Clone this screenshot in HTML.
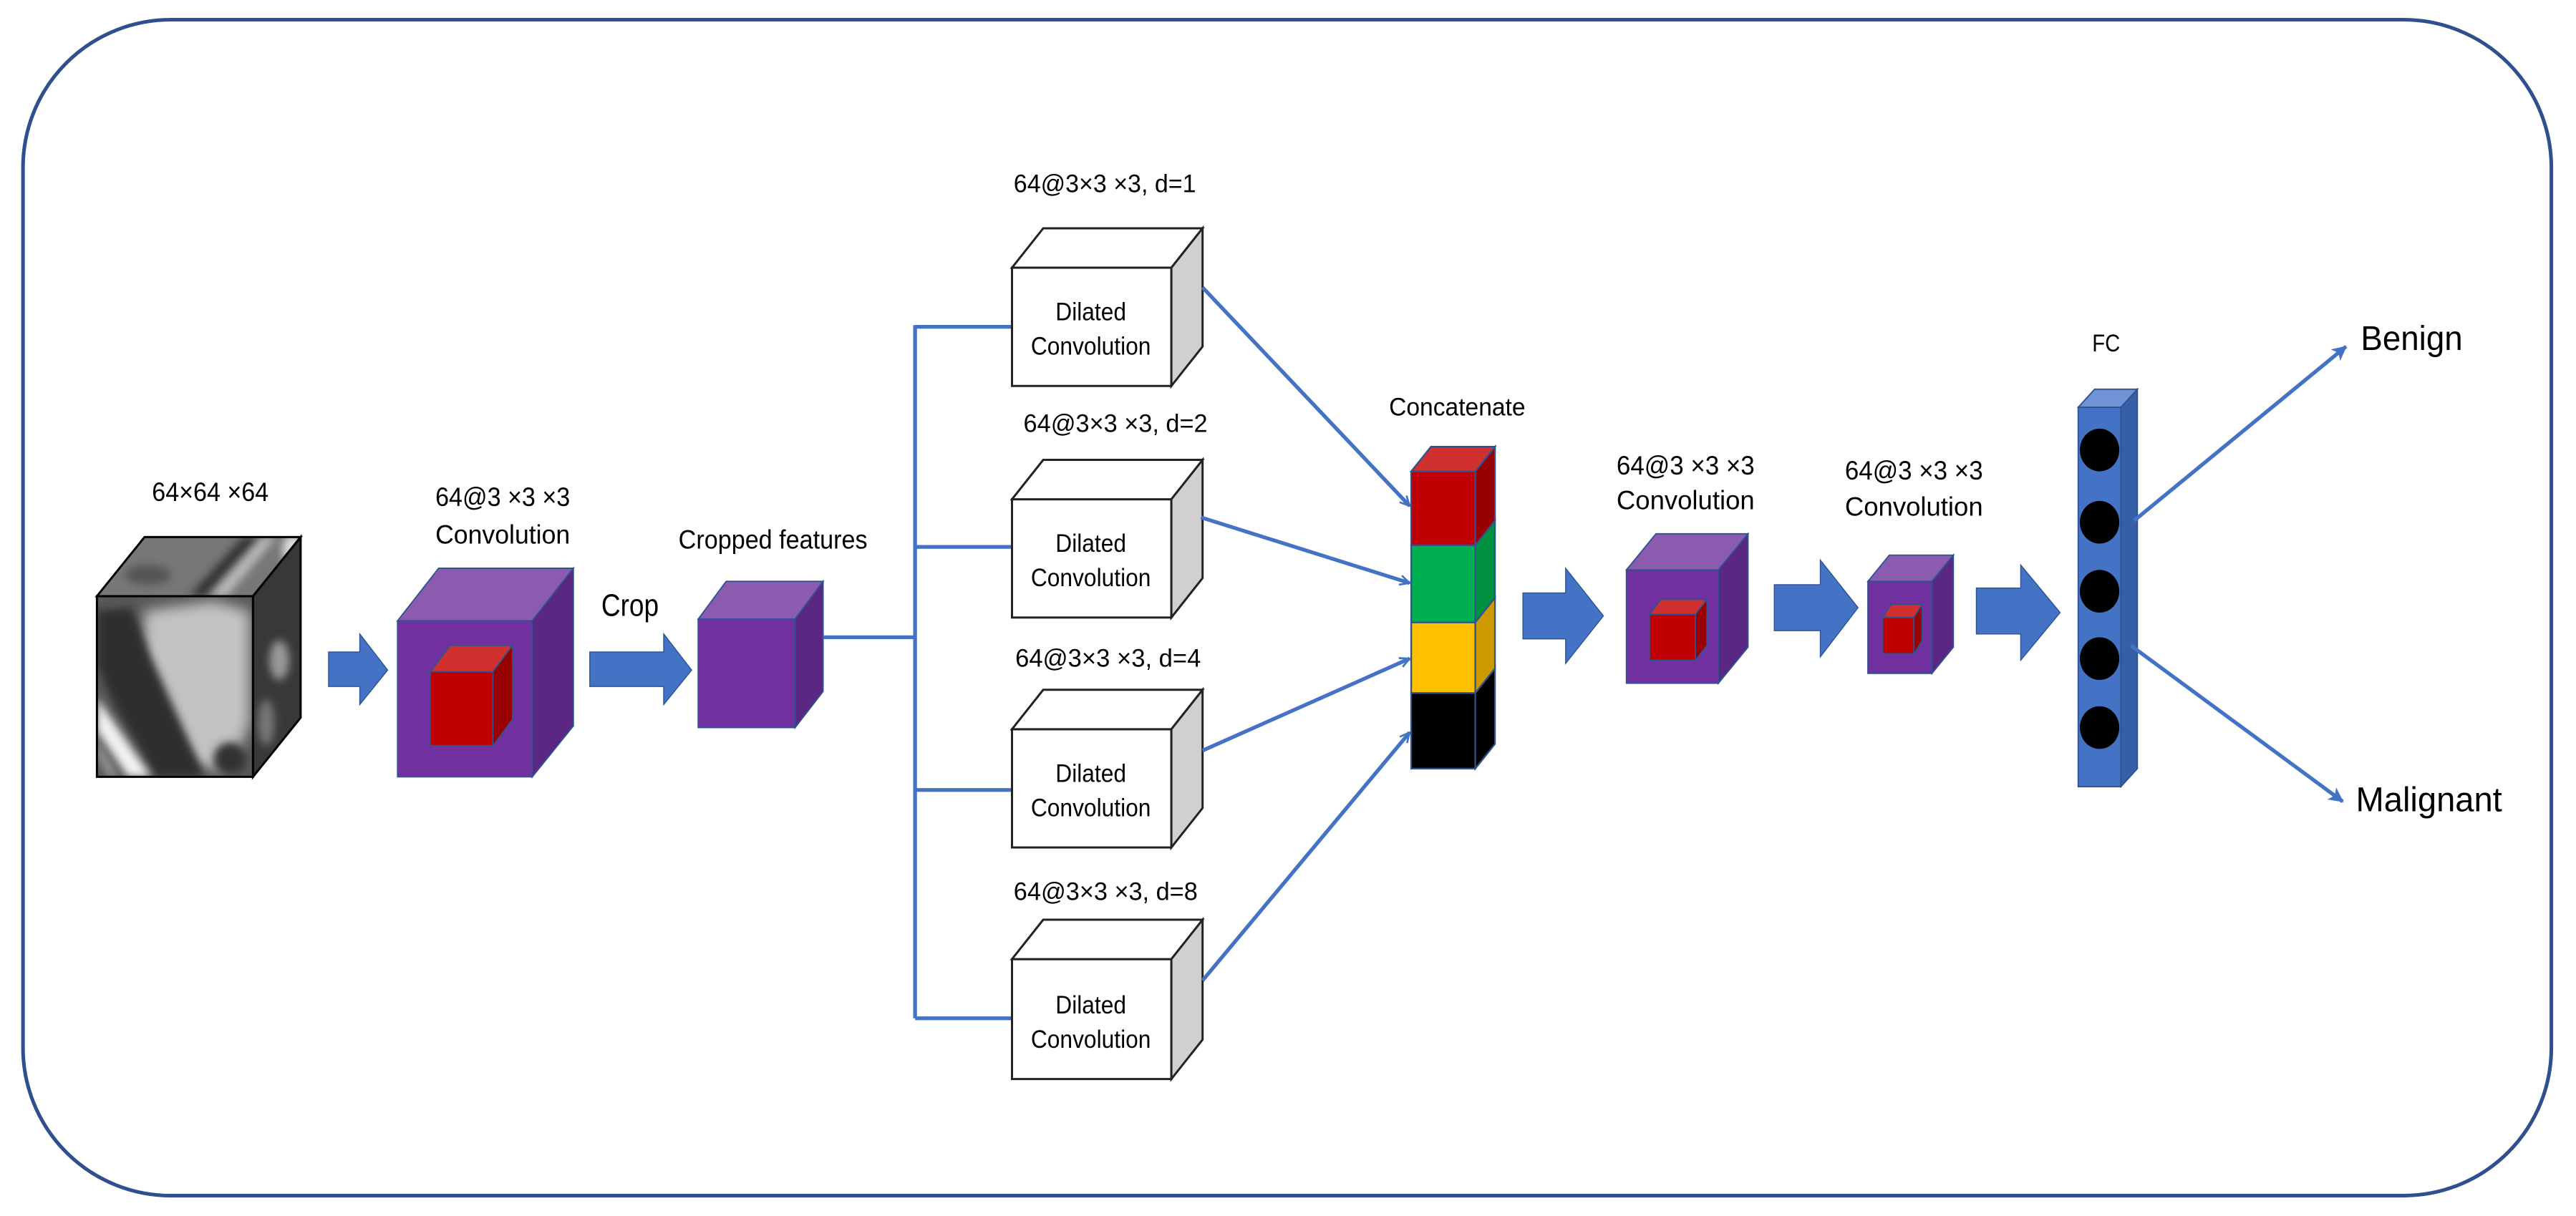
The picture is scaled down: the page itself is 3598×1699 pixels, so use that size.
<!DOCTYPE html>
<html><head><meta charset="utf-8"><style>
html,body{margin:0;padding:0;background:#fff;}
svg{display:block;}
text{font-family:"Liberation Sans",sans-serif;fill:#000;}
.n{font-family:"Liberation Sans Narrow","Liberation Sans",sans-serif;}
</style></head><body>
<svg width="3598" height="1699" viewBox="0 0 1568 740.4" preserveAspectRatio="none" xmlns="http://www.w3.org/2000/svg">
<defs>
<filter id="bl" x="-50%" y="-50%" width="200%" height="200%"><feGaussianBlur stdDeviation="4"/></filter>
<filter id="bl2" x="-50%" y="-50%" width="200%" height="200%"><feGaussianBlur stdDeviation="2.5"/></filter>
<clipPath id="cf"><rect x="59" y="363" width="95" height="110"/></clipPath>
<clipPath id="ct"><polygon points="59,363 88,327 183,327 154,363"/></clipPath>
<clipPath id="cs"><polygon points="154,363 183,327 183,437 154,473"/></clipPath>
<marker id="ah" viewBox="0 0 12 12" refX="11" refY="6" markerWidth="7" markerHeight="7" markerUnits="userSpaceOnUse" orient="auto"><path d="M1,1 L11,6 L1,11" fill="none" stroke="#4472c4" stroke-width="2"/></marker>
<marker id="ah2" viewBox="0 0 12 12" refX="11" refY="6" markerWidth="9" markerHeight="9" markerUnits="userSpaceOnUse" orient="auto"><path d="M0,0 L12,6 L0,12 L3,6 Z" fill="#4472c4"/></marker>
</defs>

<rect x="14" y="12" width="1539" height="716" rx="90" ry="90" fill="#fff" stroke="#2f4f8f" stroke-width="2.2"/>

<!-- image cube -->
<g clip-path="url(#cf)">
<rect x="59" y="363" width="95" height="110" fill="#585858"/>
<polygon points="88,372 130,366 152,372 152,440 140,470 118,466 98,440 86,410" fill="#c2c2c2" filter="url(#bl)"/>
<polygon points="59,372 80,370 92,400 110,440 125,473 95,473 70,430 59,405" fill="#2e2e2e" filter="url(#bl2)"/>
<polygon points="59,425 59,445 78,473 92,473" fill="#f2f2f2" filter="url(#bl2)"/>
<polygon points="59,450 59,460 66,473 72,473" fill="#999" filter="url(#bl2)"/>
<ellipse cx="140" cy="462" rx="10" ry="10" fill="#333" filter="url(#bl2)"/>
</g>
<g clip-path="url(#ct)">
<polygon points="59,363 88,327 183,327 154,363" fill="#777"/>
<polygon points="115,363 148,327 158,327 125,363" fill="#333" filter="url(#bl2)"/>
<polygon points="128,363 160,327 168,327 138,363" fill="#bbb" filter="url(#bl2)"/>
<ellipse cx="178" cy="335" rx="6" ry="10" fill="#ddd" filter="url(#bl2)"/>
<ellipse cx="90" cy="350" rx="14" ry="6" fill="#555" filter="url(#bl2)"/>
</g>
<g clip-path="url(#cs)">
<polygon points="154,363 183,327 183,437 154,473" fill="#383838"/>
<ellipse cx="170" cy="402" rx="6" ry="12" fill="#999" filter="url(#bl2)"/>
<ellipse cx="162" cy="440" rx="5" ry="14" fill="#777" filter="url(#bl2)"/>
</g>
<g fill="none" stroke="#000" stroke-width="1.3">
<rect x="59" y="363" width="95" height="110"/>
<polygon points="59,363 88,327 183,327 154,363"/>
<polygon points="154,363 183,327 183,437 154,473"/>
</g>
<text x="128" y="305" font-size="16" text-anchor="middle" class="n" textLength="71" lengthAdjust="spacingAndGlyphs">64×64 ×64</text>

<!-- arrow1 -->
<polygon points="200,397 219,397 219,386 236,408 219,429 219,418 200,418" fill="#4472c4" stroke="#2f528f" stroke-width="0.6"/>

<!-- conv1 -->
<g stroke="#2f528f" stroke-width="0.8">
<rect x="242" y="378" width="82" height="95" fill="#7030a0"/>
<polygon points="242,378 267,346 349,346 324,378" fill="#8b5bb0"/>
<polygon points="324,378 349,346 349,442 324,473" fill="#5a2782"/>
<rect x="262" y="409" width="38" height="45" fill="#c00000"/>
<polygon points="262,409 274,393 312,393 300,409" fill="#d03030"/>
<polygon points="300,409 312,393 312,438 300,454" fill="#990000"/>
</g>
<text x="306" y="308" font-size="16" text-anchor="middle" class="n" textLength="82" lengthAdjust="spacingAndGlyphs">64@3 ×3 ×3</text>
<text x="306" y="331" font-size="16" text-anchor="middle" class="n" textLength="82" lengthAdjust="spacingAndGlyphs">Convolution</text>

<!-- crop -->
<text x="366" y="375" font-size="19" class="n" textLength="35" lengthAdjust="spacingAndGlyphs">Crop</text>
<polygon points="359,397 404,397 404,386 421,408 404,429 404,418 359,418" fill="#4472c4" stroke="#2f528f" stroke-width="0.6"/>

<!-- cropped -->
<g stroke="#2f528f" stroke-width="0.8">
<rect x="425" y="377" width="59" height="66" fill="#7030a0"/>
<polygon points="425,377 442,354 501,354 484,377" fill="#8b5bb0"/>
<polygon points="484,377 501,354 501,421 484,443" fill="#5a2782"/>
</g>
<text x="413" y="334" font-size="16" class="n" textLength="115" lengthAdjust="spacingAndGlyphs">Cropped features</text>

<!-- tree connectors -->
<g stroke="#4472c4" stroke-width="2.3" fill="none">
<line x1="501" y1="388" x2="557" y2="388"/>
<line x1="557" y1="198" x2="557" y2="620"/>
<line x1="557" y1="199" x2="616" y2="199"/>
<line x1="557" y1="333" x2="616" y2="333"/>
<line x1="557" y1="481" x2="616" y2="481"/>
<line x1="557" y1="620" x2="616" y2="620"/>
</g>

<!-- dilated boxes -->
<g stroke="#222" stroke-width="1.3">
<g><rect x="616" y="163" width="97" height="72" fill="#fff"/><polygon points="616,163 635,139 732,139 713,163" fill="#fff"/><polygon points="713,163 732,139 732,211 713,235" fill="#d0d0d0"/></g>
<g><rect x="616" y="304" width="97" height="72" fill="#fff"/><polygon points="616,304 635,280 732,280 713,304" fill="#fff"/><polygon points="713,304 732,280 732,352 713,376" fill="#d0d0d0"/></g>
<g><rect x="616" y="444" width="97" height="72" fill="#fff"/><polygon points="616,444 635,420 732,420 713,444" fill="#fff"/><polygon points="713,444 732,420 732,492 713,516" fill="#d0d0d0"/></g>
<g><rect x="616" y="584" width="97" height="73" fill="#fff"/><polygon points="616,584 635,560 732,560 713,584" fill="#fff"/><polygon points="713,584 732,560 732,633 713,657" fill="#d0d0d0"/></g>
</g>
<g font-size="15.5" text-anchor="middle">
<text x="664" y="195" textLength="43" lengthAdjust="spacingAndGlyphs">Dilated</text>
<text x="664" y="216" textLength="73" lengthAdjust="spacingAndGlyphs">Convolution</text>
<text x="664" y="336" textLength="43" lengthAdjust="spacingAndGlyphs">Dilated</text>
<text x="664" y="357" textLength="73" lengthAdjust="spacingAndGlyphs">Convolution</text>
<text x="664" y="476" textLength="43" lengthAdjust="spacingAndGlyphs">Dilated</text>
<text x="664" y="497" textLength="73" lengthAdjust="spacingAndGlyphs">Convolution</text>
<text x="664" y="617" textLength="43" lengthAdjust="spacingAndGlyphs">Dilated</text>
<text x="664" y="638" textLength="73" lengthAdjust="spacingAndGlyphs">Convolution</text>
</g>
<g font-size="15.5">
<text x="617" y="117" textLength="111" lengthAdjust="spacingAndGlyphs">64@3×3 ×3, d=1</text>
<text x="623" y="263" textLength="112" lengthAdjust="spacingAndGlyphs">64@3×3 ×3, d=2</text>
<text x="618" y="406" textLength="113" lengthAdjust="spacingAndGlyphs">64@3×3 ×3, d=4</text>
<text x="617" y="548" textLength="112" lengthAdjust="spacingAndGlyphs">64@3×3 ×3, d=8</text>
</g>

<!-- arrows into concat -->
<g stroke="#4472c4" stroke-width="2.3" fill="none" marker-end="url(#ah)">
<line x1="732" y1="175" x2="858" y2="308"/>
<line x1="731" y1="315" x2="858" y2="355"/>
<line x1="732" y1="457" x2="858" y2="401"/>
<line x1="732" y1="597" x2="858" y2="446"/>
</g>

<!-- concat -->
<g stroke="#2f528f" stroke-width="1">
<rect x="859" y="287" width="39" height="45" fill="#c00000"/>
<polygon points="898,287 910,272 910,317 898,332" fill="#990000"/>
<rect x="859" y="332" width="39" height="47" fill="#00b050"/>
<polygon points="898,332 910,317 910,364 898,379" fill="#009040"/>
<rect x="859" y="379" width="39" height="43" fill="#ffc000"/>
<polygon points="898,379 910,364 910,407 898,422" fill="#cc9a00"/>
<rect x="859" y="422" width="39" height="46" fill="#000"/>
<polygon points="898,422 910,407 910,453 898,468" fill="#000"/>
<polygon points="859,287 871,272 910,272 898,287" fill="#d03030"/>
</g>
<text x="887" y="253" font-size="15.5" text-anchor="middle" textLength="83" lengthAdjust="spacingAndGlyphs">Concatenate</text>

<!-- arrow3 -->
<polygon points="927,361 953,361 953,346 976,375 953,404 953,389 927,389" fill="#4472c4" stroke="#2f528f" stroke-width="0.6"/>

<!-- conv2 -->
<g stroke="#2f528f" stroke-width="0.8">
<rect x="990" y="347" width="56" height="69" fill="#7030a0"/>
<polygon points="990,347 1008,325 1064,325 1046,347" fill="#8b5bb0"/>
<polygon points="1046,347 1064,325 1064,394 1046,416" fill="#5a2782"/>
<rect x="1004" y="374" width="28" height="28" fill="#c00000"/>
<polygon points="1004,374 1011,365 1039,365 1032,374" fill="#d03030"/>
<polygon points="1032,374 1039,365 1039,393 1032,402" fill="#990000"/>
</g>
<text x="1026" y="289" font-size="16" text-anchor="middle" class="n" textLength="84" lengthAdjust="spacingAndGlyphs">64@3 ×3 ×3</text>
<text x="1026" y="310" font-size="16" text-anchor="middle" class="n" textLength="84" lengthAdjust="spacingAndGlyphs">Convolution</text>

<!-- arrow4 -->
<polygon points="1080,356 1108,356 1108,341 1131,370 1108,400 1108,384 1080,384" fill="#4472c4" stroke="#2f528f" stroke-width="0.6"/>

<!-- conv3 -->
<g stroke="#2f528f" stroke-width="0.8">
<rect x="1137" y="354" width="39" height="56" fill="#7030a0"/>
<polygon points="1137,354 1150,338 1189,338 1176,354" fill="#8b5bb0"/>
<polygon points="1176,354 1189,338 1189,394 1176,410" fill="#5a2782"/>
<rect x="1146" y="376" width="19" height="22" fill="#c00000"/>
<polygon points="1146,376 1151,368 1170,368 1165,376" fill="#d03030"/>
<polygon points="1165,376 1170,368 1170,390 1165,398" fill="#990000"/>
</g>
<text x="1165" y="292" font-size="16" text-anchor="middle" class="n" textLength="84" lengthAdjust="spacingAndGlyphs">64@3 ×3 ×3</text>
<text x="1165" y="314" font-size="16" text-anchor="middle" class="n" textLength="84" lengthAdjust="spacingAndGlyphs">Convolution</text>

<!-- arrow5 -->
<polygon points="1203,358 1230,358 1230,344 1254,373 1230,402 1230,386 1203,386" fill="#4472c4" stroke="#2f528f" stroke-width="0.6"/>

<!-- FC -->
<g stroke="#2f528f" stroke-width="0.8">
<rect x="1265" y="248" width="26" height="231" fill="#4472c4"/>
<polygon points="1265,248 1275,237 1301,237 1291,248" fill="#6f93d4"/>
<polygon points="1291,248 1301,237 1301,468 1291,479" fill="#3560a8"/>
</g>
<g fill="#000">
<ellipse cx="1278" cy="274" rx="12" ry="13"/>
<ellipse cx="1278" cy="318" rx="12" ry="13"/>
<ellipse cx="1278" cy="360" rx="12" ry="13"/>
<ellipse cx="1278" cy="401" rx="12" ry="13"/>
<ellipse cx="1278" cy="443" rx="12" ry="13"/>
</g>
<text x="1282" y="214" font-size="15" text-anchor="middle" class="n" textLength="17" lengthAdjust="spacingAndGlyphs">FC</text>

<g stroke="#4472c4" stroke-width="2.3" fill="none" marker-end="url(#ah2)">
<line x1="1299" y1="317" x2="1428" y2="211"/>
<line x1="1297" y1="393" x2="1426" y2="488"/>
</g>
<text x="1437" y="213" font-size="21" class="n" textLength="62" lengthAdjust="spacingAndGlyphs">Benign</text>
<text x="1434" y="494" font-size="21" class="n" textLength="89" lengthAdjust="spacingAndGlyphs">Malignant</text>
</svg>
</body></html>
